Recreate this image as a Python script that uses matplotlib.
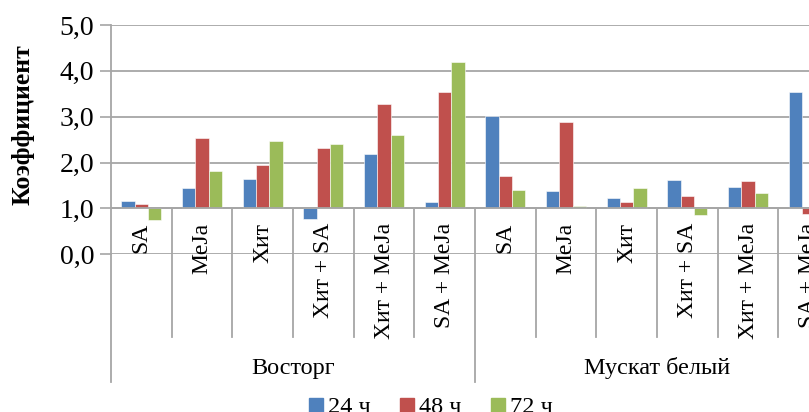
import numpy as np
import matplotlib.pyplot as plt
from matplotlib.lines import Line2D

plt.rcParams['font.family'] = ['Liberation Serif', 'DejaVu Serif']

groups = ['Восторг', 'Мускат белый']
treatments = ['SA', 'MeJa', 'Хит', 'Хит + SA', 'Хит + MeJa', 'SA + MeJa']
series = ['24 ч', '48 ч', '72 ч']

# values per group (Восторг then Мускат белый), one list per time point
v24 = [1.17, 1.44, 1.65, 0.77, 2.19, 1.14,
       3.02, 1.38, 1.22, 1.62, 1.46, 3.53]
v48 = [1.09, 2.54, 1.94, 2.32, 3.28, 3.53,
       1.70, 2.88, 1.14, 1.27, 1.60, 0.88]
v72 = [0.75, 1.81, 2.48, 2.40, 2.61, 4.20,
       1.41, 1.06, 1.44, 0.85, 1.33, np.nan]  # last bar lies outside the crop

colors = ['#4F81BD', '#C0504D', '#9BBB59']
grid_c = '#A6A6A6'

W, H = 809, 412
fig = plt.figure(figsize=(W / 100, H / 100), dpi=100)
x0, x1, ytop, ybot = 111, 809, 25, 254.2
ax = fig.add_axes([x0 / W, 1 - ybot / H, (x1 - x0) / W, (ybot - ytop) / H])

cat_w = 60.67
ax.set_xlim(0, (x1 - x0) / cat_w)
ax.set_ylim(0, 5)

ncat = len(groups) * len(treatments)
xs = np.arange(ncat) + 0.5
bw = 0.22
for j, vals in enumerate([v24, v48, v72]):
    vals = np.array(vals)
    ax.bar(xs + (j - 1) * bw, vals - 1, bottom=1, width=bw,
           color=colors[j], edgecolor='white', linewidth=0.4, zorder=3)

ax.set_yticks(np.arange(0, 5.1, 1))
ax.set_yticklabels([f'{t:.1f}'.replace('.', ',') for t in np.arange(0, 5.1, 1)],
                   fontsize=20)
ax.tick_params(axis='y', length=8, width=1.2, color=grid_c, pad=4)
ax.set_xticks([])
ax.yaxis.grid(True, color=grid_c, lw=1.3, zorder=0)
ax.set_axisbelow(True)
for s in ['top', 'right', 'bottom']:
    ax.spines[s].set_visible(False)
ax.spines['left'].set_color(grid_c)
ax.spines['left'].set_linewidth(1.3)

# category axis drawn at 1.0
ax.axhline(1, color=grid_c, lw=1.3, zorder=4)

# extended axis lines below the plot (multi-level category labels)
px = 1 / 45.83
y_sep = 1 - (337 - 208.3) * px
y_grp = 1 - (382 - 208.3) * px
ax.plot([0, 0], [0, y_grp], color=grid_c, lw=1.3, clip_on=False)
for i in range(1, ncat):
    low = y_grp if i % len(treatments) == 0 else y_sep
    ax.plot([i, i], [1, low], color=grid_c, lw=1.3, clip_on=False)

y_lab = 1 - (223 - 208.3) * px
for i in range(ncat):
    ax.text(xs[i], y_lab, treatments[i % len(treatments)], rotation=90,
            ha='center', va='top', fontsize=17, clip_on=False)

y_g = 1 - (368 - 208.3) * px
for g, name in enumerate(groups):
    ax.text(g * len(treatments) + len(treatments) / 2, y_g, name,
            ha='center', va='center', fontsize=17.5, clip_on=False)

fig.text(23 / W, 1 - 125 / H, 'Коэффициент', rotation=90, ha='center',
         va='center', fontsize=18.5, fontweight='bold')

handles = [Line2D([], [], marker='s', linestyle='none', markersize=10,
                  markerfacecolor=c, markeredgecolor=c) for c in colors]
fig.legend(handles, series, loc='center', bbox_to_anchor=(431 / W, 1 - 407 / H),
           ncol=3, frameon=False, fontsize=17.5, handlelength=0.6,
           handletextpad=0.2, columnspacing=1.2, borderpad=0)

fig.savefig('out.png', dpi=100)
